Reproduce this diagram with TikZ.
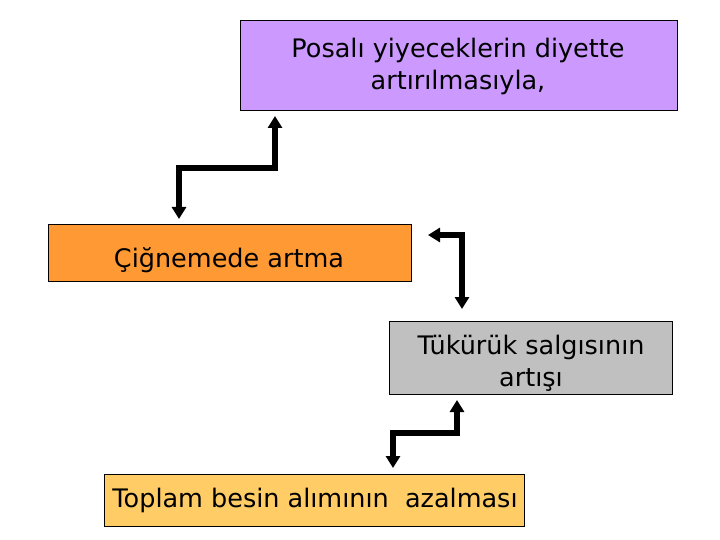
\documentclass[tikz,border=0pt]{standalone}
\usepackage{fontspec}
\setmainfont{DejaVu Sans}
\usetikzlibrary{arrows.meta}
\definecolor{cpurple}{HTML}{CC99FF}
\definecolor{corange}{HTML}{FF9933}
\definecolor{cgray}{HTML}{C0C0C0}
\definecolor{cyellow}{HTML}{FFCC66}
\tikzset{
  box/.style={draw=black, line width=1pt, anchor=north west, inner sep=0pt},
  txt/.style={anchor=base, inner sep=0pt, align=center, font=\fontsize{25.5}{32}\selectfont},
  conn/.style={line width=5.5pt, {Triangle[width=14pt,length=12pt]}-{Triangle[width=14pt,length=12pt]}}
}
\begin{document}
\begin{tikzpicture}[x=1pt,y=-1pt]
\useasboundingbox (0,0) rectangle (720,540);
\node[box, fill=cpurple, minimum width=437pt, minimum height=90pt] (p) at (240,20) {};
\node[box, fill=corange, minimum width=363pt, minimum height=57pt] (o) at (48,224) {};
\node[box, fill=cgray, minimum width=283pt, minimum height=73pt] (g) at (389,321) {};
\node[box, fill=cyellow, minimum width=420pt, minimum height=52pt] (y) at (104,474) {};
\node[txt] (pt) at (458,90) {Posalı yiyeceklerin diyette\\artırılmasıyla,};
\node[txt] (ot) at (229,267) {Çiğnemede artma};
\node[txt] (gt) at (531,386) {Tükürük salgısının\\artışı};
\node[txt] (yt) at (315,507) {Toplam besin alımının\ \ azalması};
\coordinate (a1) at (275,116);
\coordinate (a2) at (179,219);
\coordinate (b1) at (428,235);
\coordinate (b2) at (462,309);
\coordinate (c1) at (457,400);
\coordinate (c2) at (393,468);
\draw[conn] (a1) -- (275,168) -- (179,168) -- (a2);
\draw[conn] (b1) -- (462,235) -- (b2);
\draw[conn] (c1) -- (457,433) -- (393,433) -- (c2);
\end{tikzpicture}
\end{document}
